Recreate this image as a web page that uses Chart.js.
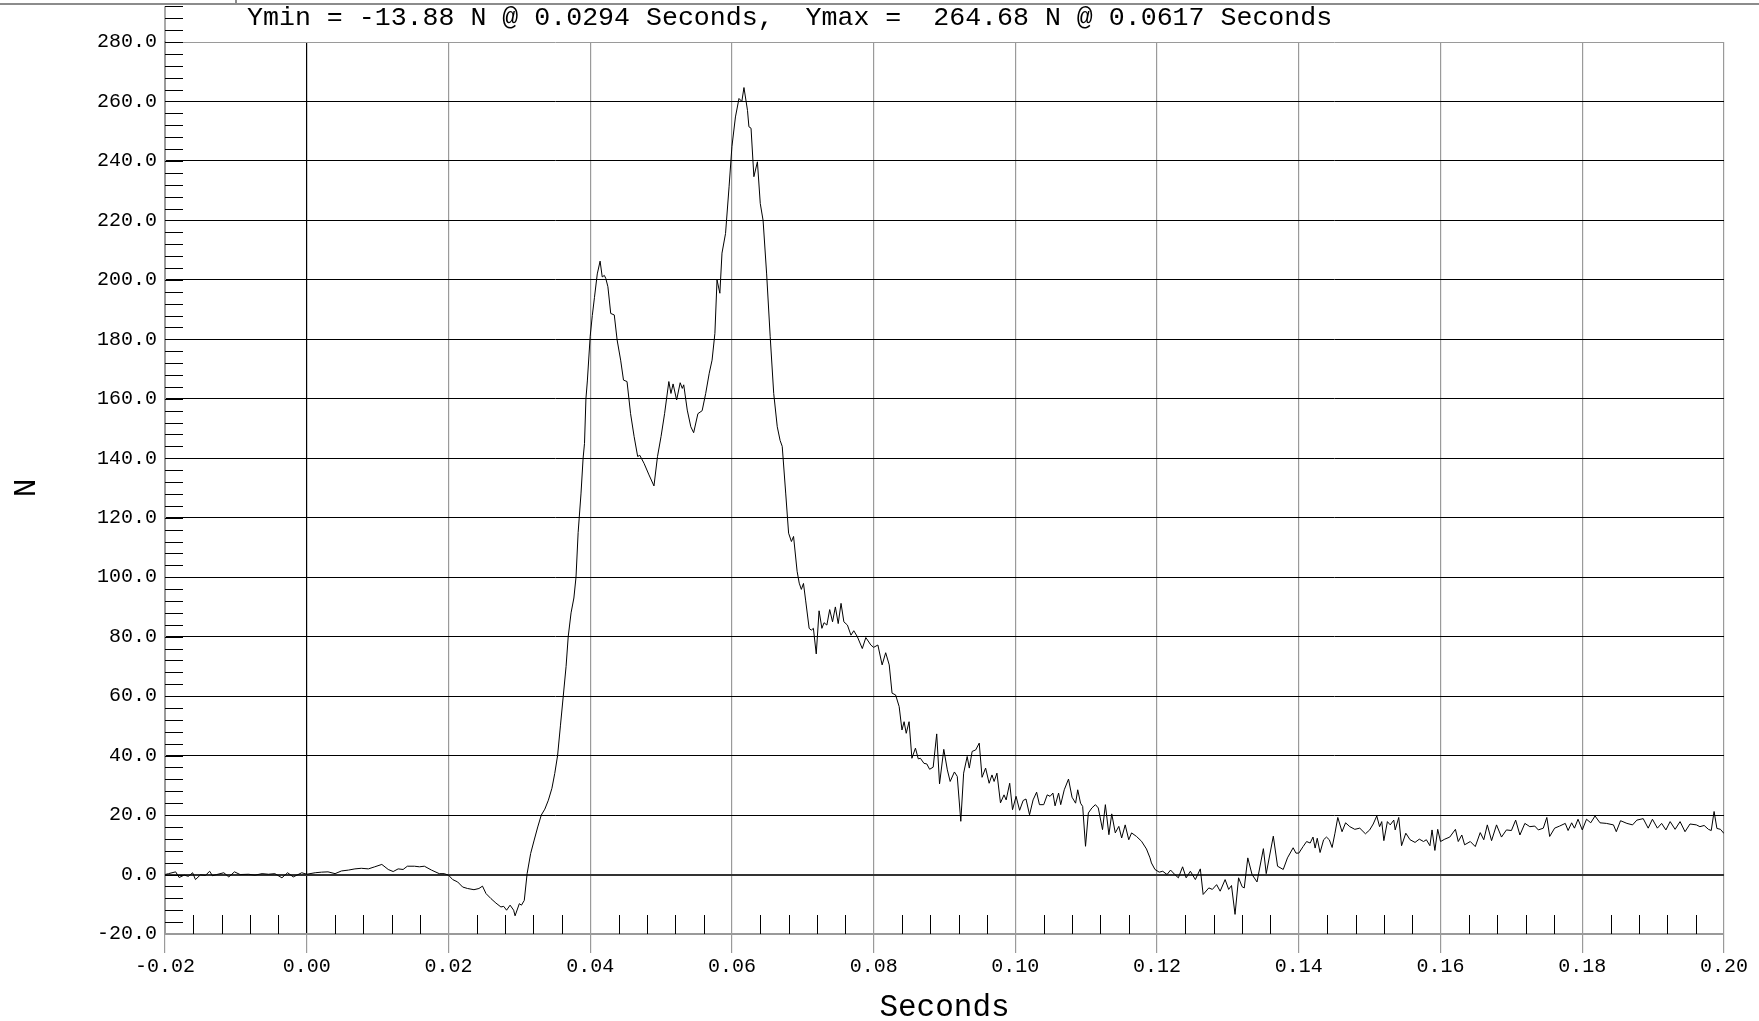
<!DOCTYPE html>
<html lang="en">
<head>
  <meta charset="UTF-8" />
  <title>Force vs Time</title>
  <script src="https://cdn.jsdelivr.net/npm/chart.js"></script>
  <style>
    body { margin: 0; background: #fff; }
    #wrap { width: 1759px; height: 1021px; position: relative; }
  </style>
</head>
<body>
  <div id="wrap"><canvas id="forceChart"></canvas></div>
  <script>
    // summary shown in the header line
    const yMinInfo = { force: -13.88, time: 0.0294 };
    const yMaxInfo = { force: 264.68, time: 0.0617 };

    // axis ranges / steps
    const xRange = [-0.02, 0.20];
    const yRange = [-20, 280];
    const xMajorStep = 0.02;
    const yMajorStep = 20;

    // [seconds, N]
    const baseline = [
      [-0.0200,0.0],[-0.0195,0.3],[-0.0185,0.9],[-0.0180,-1.0],[-0.0173,-0.2],[-0.0167,-0.6],[-0.0161,0.6],
      [-0.0157,-1.7],[-0.0150,-0.1],[-0.0143,-0.3],[-0.0137,1.1],[-0.0133,-0.4],[-0.0127,0.0],[-0.0117,0.6],
      [-0.0110,-0.8],[-0.0102,0.9],[-0.0094,0.0],[-0.0082,0.1],[-0.0073,-0.2],[-0.0063,0.3],[-0.0054,0.1],
      [-0.0045,0.3],[-0.0035,-1.1],[-0.0027,0.6],[-0.0019,-0.8],[-0.0007,0.6],[0.0000,0.1],
      [0.0012,0.6],[0.0021,0.8],[0.0030,0.9],[0.0040,0.3],[0.0049,1.2],[0.0059,1.5],[0.0068,1.9],
      [0.0077,2.1],[0.0087,1.9],[0.0096,2.6],[0.0106,3.4],[0.0115,1.7],[0.0122,1.0],[0.0129,1.9],
      [0.0136,1.7],[0.0142,2.8],[0.0152,2.8],[0.0159,2.6],[0.0166,2.8],[0.0176,1.5],[0.0187,0.3],
      [0.0194,0.3],[0.0200,-0.2]
    ];

    const impact = [
      [0.0206,-1.7],[0.0213,-2.5],[0.0220,-4.2],[0.0227,-4.7],[0.0236,-5.1],[0.0243,-4.7],[0.0248,-3.9],
      [0.0253,-6.4],[0.0260,-8.1],[0.0267,-9.6],[0.0274,-10.9],[0.0278,-10.7],[0.0282,-12.0],[0.0287,-10.3],
      [0.0292,-12.0],[0.0294,-13.88],[0.0300,-9.8],[0.0303,-10.3],[0.0307,-8.7],[0.0311,0.3],[0.0316,7.1],
      [0.0321,11.6],[0.0326,16],[0.0331,20],[0.0336,22],[0.0341,25],[0.0346,29],[0.0350,34],[0.0354,40],
      [0.0358,50],[0.0362,60],[0.0366,70],[0.0369,80],[0.0373,88],[0.0377,93],[0.0380,100],[0.0383,115],
      [0.0387,128],[0.0390,140],[0.0392,145],[0.0394,160],[0.0396,166],[0.0400,181],[0.0403,188],
      [0.0406,194],[0.0410,202],[0.0414,206.3],[0.0417,201],[0.0420,201.5],[0.0422,200.5],[0.0425,197.7],
      [0.0429,188.7],[0.0434,188.2],[0.0438,179.8],[0.0443,173],[0.0447,166.3],[0.0452,165.8],[0.0457,155],
      [0.0462,147.3],[0.0467,140.6],[0.0470,141],[0.0476,138.3],[0.0483,134.4],[0.0490,130.7],[0.0495,140.6],
      [0.0500,147.3],[0.0505,155],[0.0511,165.8],[0.0514,161.8],[0.0517,165],[0.0522,159.6],[0.0527,165.4],
      [0.0530,163.5],[0.0532,164.7],[0.0537,156.2],[0.0542,150.6],[0.0546,148.6],[0.0552,155],[0.0558,156],
      [0.0563,161.8],[0.0568,168.6],[0.0572,173],[0.0576,182],[0.0579,200],[0.0583,195.5],[0.0586,209],
      [0.0591,215.6],[0.0596,231.3],[0.0600,244.8],[0.0605,254.8],[0.0610,261],[0.0614,260],[0.0617,264.68],
      [0.0622,257],[0.0624,251.5],[0.0627,251],[0.0631,234.7],[0.0636,239.7],[0.0640,225.7],[0.0644,220],
      [0.0649,202],[0.0654,181],[0.0659,161.8],[0.0664,150.6],[0.0668,146],[0.0671,144],[0.0676,128],
      [0.0680,114.8],[0.0684,112],[0.0687,113.7],[0.0692,102]
    ];

    const unloading = [
      [0.0695,98],[0.0698,95.9],[0.0701,97.9],[0.0704,92.3],[0.0709,82.8],[0.0712,82.2],[0.0715,82.8],
      [0.0719,74.2],[0.0723,88.7],[0.0727,82.8],[0.0730,84.7],[0.0734,83.9],[0.0738,89.1],[0.0742,85],
      [0.0746,90],[0.0750,84.4],[0.0754,91.2],[0.0758,85],[0.0763,83.9],[0.0768,80.5],[0.0772,82],
      [0.0777,80],[0.0784,76],[0.0789,79.7],[0.0796,77.2],[0.0800,76.4],[0.0806,77.2],[0.0812,70.5],
      [0.0817,74.6],[0.0822,70.5],[0.0826,61],[0.0831,60.4],[0.0836,56.5],[0.0840,48.6],[0.0843,51.4],
      [0.0846,47.5],[0.0850,51.4],[0.0854,39.1],[0.0859,42.5],[0.0863,38.9],[0.0866,39.1],[0.0871,37.4],
      [0.0875,37.2],[0.0879,35.4],[0.0884,36.1],[0.0889,47.3],[0.0893,30.5],[0.0899,42.1],[0.0904,35.2],
      [0.0908,31.3],[0.0914,34.5],[0.0918,33],[0.0923,17.9],[0.0927,34.1],[0.0932,39.7],[0.0935,35.8],
      [0.0939,41.4],[0.0944,41.9],[0.0949,44.2],[0.0953,32.7],[0.0958,35.8],[0.0963,30.7],[0.0967,33.5],
      [0.0970,31.3],[0.0974,34.1],[0.0979,24.1],[0.0984,26.8],[0.0987,25.1],[0.0992,30.7],[0.0996,21.8],
      [0.1001,26.3],[0.1006,21.6],[0.1011,24.9],[0.1015,25.4],[0.1020,20.1],[0.1025,25.1],[0.1030,27.7],
      [0.1034,23.5],[0.1040,23.5],[0.1045,26.8],[0.1049,26.3],[0.1053,27.4],[0.1056,23.1],[0.1061,27.4],
      [0.1064,23.5],[0.1069,28.5],[0.1075,32.1],[0.1080,26],[0.1085,24],[0.1088,28.5],[0.1092,24],
      [0.1095,22.9],[0.1099,9.5],[0.1103,20.7],[0.1108,22.4],[0.1113,23.5],[0.1117,22.4],[0.1123,15.1],
      [0.1127,23.5],[0.1132,13.4],[0.1136,20.4],[0.1141,14],[0.1146,16.2],[0.1150,12.3],[0.1155,16.7],
      [0.1160,11.7],[0.1164,14],[0.1171,12.8],[0.1178,11.2],[0.1185,8.6],[0.1190,5.6],[0.1192,3.9],
      [0.1197,1.7],[0.1203,0.8],[0.1208,1.1],[0.1214,0],[0.1219,1.5],[0.1225,0],[0.1230,-1.1],
      [0.1236,2.6],[0.1241,-1.1],[0.1247,1.1],[0.1254,-1.7],[0.1261,1.9],[0.1265,-6.7],[0.1273,-4.5],
      [0.1278,-5],[0.1284,-3.4],[0.1289,-5.6],[0.1296,-1.7],[0.1301,-5],[0.1305,-3.7],[0.1310,-13.4],
      [0.1315,-1.1],[0.1320,-4.1],[0.1323,-4.5],[0.1328,5.6],[0.1334,0],[0.1341,-2.5],[0.1350,8.7],
      [0.1354,0.3],[0.1364,12.9],[0.1370,2.8],[0.1378,1.7],[0.1384,5.6],[0.1392,9],[0.1396,7.2]
    ];

    const settling = [
      [0.1400,7.2],[0.1406,9.4],[0.1411,11.1],[0.1416,10.6],[0.1420,12.6],[0.1423,8.9],[0.1426,12.2],
      [0.1430,7.4],[0.1435,11.7],[0.1439,12.6],[0.1443,11.7],[0.1447,9.1],[0.1451,13.9],[0.1455,19.2],
      [0.1461,14.4],[0.1466,17.4],[0.1472,16.1],[0.1479,15.2],[0.1486,15.6],[0.1494,13.7],[0.1500,15],
      [0.1505,17],[0.1510,19.7],[0.1514,16.1],[0.1517,17.8],[0.1520,11.4],[0.1525,17.8],[0.1529,16.7],
      [0.1534,18.3],[0.1536,15],[0.1541,19.2],[0.1545,9.7],[0.1551,13.9],[0.1557,11.7],[0.1564,10.8],
      [0.1570,11.9],[0.1576,11.1],[0.1580,11.7],[0.1585,9.7],[0.1588,15],[0.1592,8.1],[0.1596,15.2],
      [0.1600,11.1],[0.1606,11.9],[0.1613,12.6],[0.1621,15.2],[0.1625,11.1],[0.1630,13.3],[0.1634,10],
      [0.1642,11.1],[0.1649,9.4],[0.1656,14.1],[0.1661,11.7],[0.1666,16.7],[0.1672,11.4],[0.1679,16.7],
      [0.1686,12.6],[0.1693,15],[0.1700,14.8],[0.1706,18.3],[0.1712,13.3],[0.1719,17.2],[0.1726,16.1],
      [0.1733,16.3],[0.1738,15],[0.1745,15.6],[0.1750,19.2],[0.1754,12.8],[0.1761,15.6],[0.1768,16.3],
      [0.1776,17.2],[0.1780,14.8],[0.1785,17.4],[0.1789,15.6],[0.1794,18.6],[0.1800,15],[0.1806,18.6],
      [0.1812,17.4],[0.1818,19.7],[0.1825,17.4],[0.1834,17.2],[0.1844,16.7],[0.1848,14.4],[0.1854,18.1],
      [0.1863,17.2],[0.1871,16.7],[0.1877,18.3],[0.1886,18.8],[0.1893,15.6],[0.1899,18.6],[0.1906,15.6],
      [0.1912,17.2],[0.1918,15],[0.1924,17.8],[0.1931,15.2],[0.1938,17.8],[0.1945,14.4],[0.1952,17],
      [0.1961,16.7],[0.1966,16.1],[0.1972,16.5],[0.1978,15.2],[0.1982,14.8],[0.1986,21.2],[0.1990,15.5],
      [0.1995,15.2],[0.2000,13.8]
    ];

    const trace = [...baseline, ...impact, ...unloading, ...settling].map(([t, f]) => ({ x: t, y: f }));

    const FONT = "'Liberation Mono', 'DejaVu Sans Mono', monospace";
    const headerText = "Ymin = " + yMinInfo.force.toFixed(2) + " N @ " + yMinInfo.time.toFixed(4) + " Seconds,  " +
                       "Ymax =  " + yMaxInfo.force.toFixed(2) + " N @ " + yMaxInfo.time.toFixed(4) + " Seconds";

    // minor ticks, header rule and summary line
    const decorations = {
      id: "decorations",
      afterDraw(chart) {
        const { ctx, chartArea: a, scales: { x, y } } = chart;
        ctx.save();
        ctx.strokeStyle = "#8c8c8c";
        ctx.lineWidth = 2;
        ctx.beginPath();
        ctx.moveTo(0, 4); ctx.lineTo(chart.width, 4);
        ctx.moveTo(236, 0); ctx.lineTo(236, 4);
        ctx.stroke();

        // y axis continues above the plot with its minor ticks
        ctx.lineWidth = 1.5;
        ctx.beginPath();
        ctx.moveTo(a.left, y.getPixelForValue(292)); ctx.lineTo(a.left, a.top);
        ctx.stroke();

        ctx.strokeStyle = "#000";
        ctx.lineWidth = 1;
        ctx.beginPath();
        for (let i = 1; i <= 78; i++) {
          const v = yRange[0] + i * 4;
          const py = Math.round(y.getPixelForValue(v)) + 0.5;
          ctx.moveTo(a.left, py); ctx.lineTo(a.left + 18, py);
        }
        for (let i = 1; i < 55; i++) {
          if (i % 5 === 0) continue;
          const px = Math.round(x.getPixelForValue(xRange[0] + i * 0.004)) + 0.5;
          ctx.moveTo(px, a.bottom); ctx.lineTo(px, a.bottom - 19);
        }
        ctx.stroke();

        ctx.fillStyle = "#000";
        ctx.font = "26.6px " + FONT;
        ctx.textBaseline = "middle";
        ctx.textAlign = "left";
        ctx.fillText(headerText, 247, 18);
        ctx.restore();
      }
    };

    new Chart(document.getElementById("forceChart"), {
      type: "line",
      data: {
        datasets: [{
          data: trace,
          borderColor: "#000",
          borderWidth: 1,
          pointRadius: 0,
          tension: 0,
          fill: false
        }]
      },
      options: {
        responsive: true,
        maintainAspectRatio: false,
        animation: false,
        layout: { padding: { top: 42, right: 35, left: 0, bottom: 0 } },
        plugins: { legend: { display: false }, tooltip: { enabled: false } },
        scales: {
          x: {
            type: "linear",
            min: xRange[0],
            max: xRange[1],
            afterFit: s => { s.height = 87; },
            ticks: {
              stepSize: xMajorStep,
              padding: 2,
              color: "#000",
              font: { family: FONT, size: 20 },
              callback: v => v.toFixed(2)
            },
            grid: {
              color: c => (c.tick && Math.abs(c.tick.value) < 1e-9) ? "#000" : "#9a9a9a",
              lineWidth: 1.2,
              drawTicks: true,
              tickLength: 19,
              tickColor: "#9a9a9a"
            },
            border: { display: true, color: "#9a9a9a", width: 2 },
            title: {
              display: true,
              text: "Seconds",
              color: "#000",
              font: { family: FONT, size: 31, lineHeight: 1 },
              padding: { top: 0, bottom: -2 }
            }
          },
          y: {
            min: yRange[0],
            max: yRange[1],
            afterFit: s => { s.width = 165; },
            ticks: {
              stepSize: yMajorStep,
              padding: 8,
              color: "#000",
              font: { family: FONT, size: 20 },
              callback: v => v.toFixed(1)
            },
            grid: {
              color: c => {
                const v = c.tick ? c.tick.value : null;
                if (v === yRange[1]) return "#9a9a9a";
                if (v === 0) return "#333";
                return "#000";
              },
              lineWidth: c => (c.tick && c.tick.value === 0) ? 2 : 1,
              drawTicks: false
            },
            border: { display: true, color: "#9a9a9a", width: 2 },
            title: {
              display: true,
              text: "N",
              color: "#000",
              font: { family: FONT, size: 31, lineHeight: 1 },
              padding: { top: 11.5, bottom: 0 }
            }
          }
        }
      },
      plugins: [decorations]
    });
  </script>
</body>
</html>
